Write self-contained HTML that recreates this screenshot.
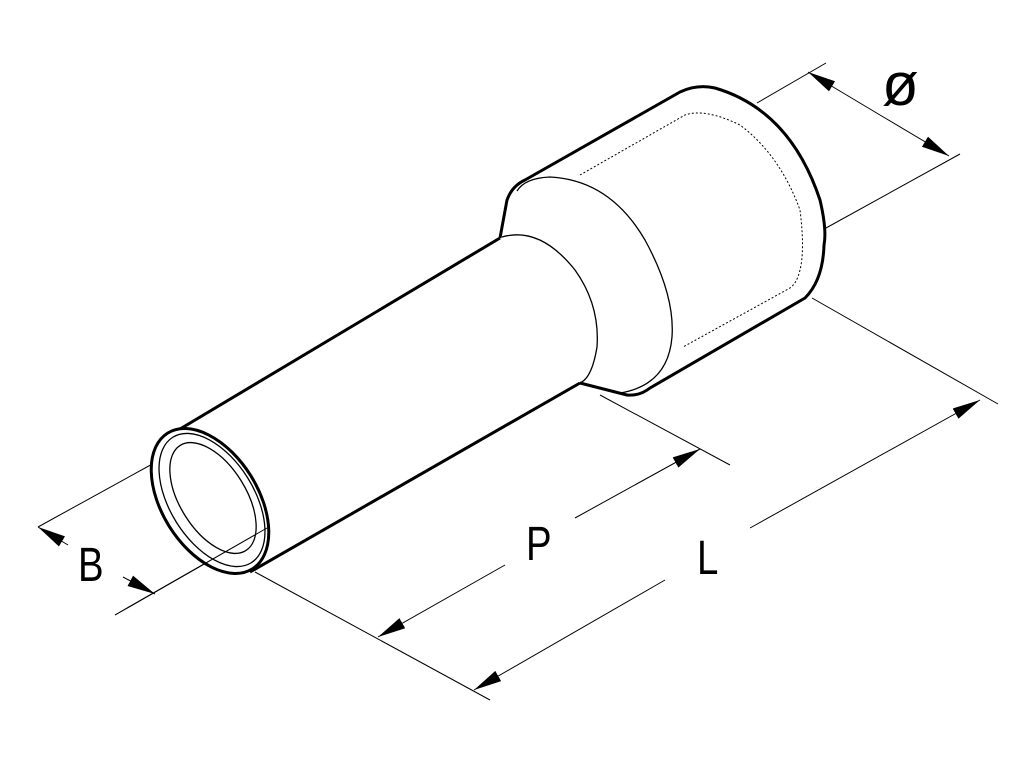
<!DOCTYPE html>
<html><head><meta charset="utf-8"><style>html,body{margin:0;padding:0;background:#fff}svg{display:block}</style></head>
<body>
<svg width="1024" height="768" viewBox="0 0 1024 768" xmlns="http://www.w3.org/2000/svg">
<defs>
<marker id="a" viewBox="0 0 10 10" refX="10" refY="5" markerWidth="28" markerHeight="28" markerUnits="userSpaceOnUse" orient="auto"><path d="M0,2.9 L10,5 L0,7.1 z" fill="#000"/></marker>
</defs>
<g fill="none" stroke="#000">
<g stroke-width="1">
<line x1="757" y1="103" x2="826" y2="63"/>
<line x1="826" y1="228" x2="960" y2="154"/>
<line x1="812" y1="298" x2="998" y2="404"/>
<line x1="255" y1="572" x2="490" y2="700"/>
<line x1="600" y1="395" x2="730" y2="465"/>
<line x1="38" y1="527" x2="156" y2="462"/>
<line x1="115" y1="615" x2="267" y2="528"/>
<line x1="880" y1="115" x2="808" y2="72" marker-end="url(#a)"/>
<line x1="880" y1="115" x2="949" y2="156" marker-end="url(#a)"/>
<line x1="750" y1="528" x2="980" y2="400" marker-end="url(#a)"/>
<line x1="665" y1="580" x2="474" y2="690" marker-end="url(#a)"/>
<line x1="575" y1="518" x2="700" y2="449" marker-end="url(#a)"/>
<line x1="505" y1="565" x2="378" y2="637" marker-end="url(#a)"/>
<line x1="68" y1="545" x2="38" y2="527" marker-end="url(#a)"/>
<line x1="123" y1="577" x2="155" y2="594" marker-end="url(#a)"/>
</g>
<path d="M175,432 L500,238" stroke-width="3"/>
<path d="M250,572 L580,383" stroke-width="3"/>
<path d="M500,238 L507,200 Q512,186 525,180 L680,92 Q697,84 715,88 Q790,110 820,200 Q827,230 824,245 Q823,280 805,298 L650,388 Q640,396 627,395 L580,383" stroke-width="3" stroke-linejoin="round"/>
<path d="M517,191 Q525,178 550,177 Q610,180 645,240 Q675,295 672,337 Q668,385 620,393" stroke-width="1.3"/>
<path d="M502,237 Q540,226 575,270 Q600,305 597,347 Q592,378 580,383" stroke-width="1.3"/>
<path d="M580,175 L685,115 Q705,108 740,125 Q780,155 800,210 Q805,250 800,270 Q797,283 790,288 L683,347" stroke-width="1" stroke-dasharray="2,2"/>
<ellipse cx="210" cy="501" rx="48" ry="80" transform="rotate(-32 210 501)" stroke-width="3" fill="#fff"/>
<ellipse cx="212" cy="500" rx="42" ry="74" transform="rotate(-32 212 500)" stroke-width="1.3"/>
<ellipse cx="213" cy="498" rx="33" ry="62" transform="rotate(-32 213 498)" stroke-width="1.3"/>
</g>
<line x1="115" y1="615" x2="267" y2="528" stroke="#000" stroke-width="1"/>
<g font-family="Liberation Sans, sans-serif" font-size="48" fill="#000">
<text x="0" y="0" transform="translate(78,581) scale(0.8,1)">B</text>
<text x="0" y="0" transform="translate(526,560) scale(0.8,1)">P</text>
<text x="0" y="0" transform="translate(697,574) scale(0.8,1)">L</text>
<text x="0" y="0" transform="translate(882,105)" font-size="60">ø</text>
</g>
</svg>
</body></html>
